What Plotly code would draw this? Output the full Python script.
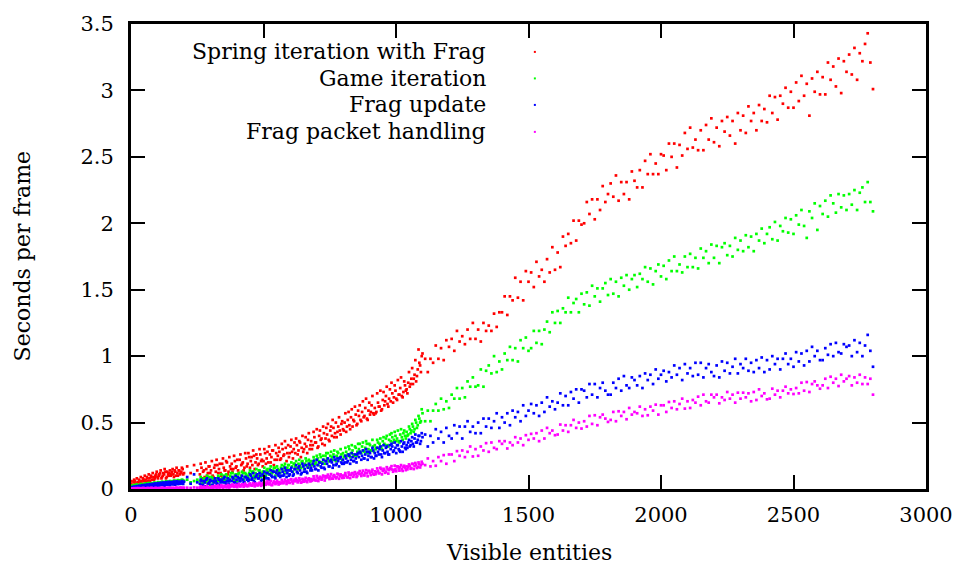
import plotly.graph_objects as go

# ---------------- data ----------------
entities = [
    0, 5, 10, 15, 20, 25, 30, 35, 40, 45, 50, 55, 60, 65, 70, 75, 80, 85, 90, 95,
    100, 105, 110, 115, 120, 125, 130, 135, 140, 145, 150, 155, 160, 165, 170, 175,
    180, 185, 190, 195, 200,
    212, 225, 238, 250,
    260, 266, 272, 278, 284, 290, 296, 302, 308, 314,
    320, 326, 332, 338, 344, 350, 356, 362, 368, 374,
    380, 386, 392, 398, 404, 410, 416, 422, 428, 434,
    440, 446, 452, 458, 464, 470, 476, 482, 488, 494,
    500, 506, 512, 518, 524, 530, 536, 542, 548, 554,
    560, 566, 572, 578, 584, 590, 596, 602, 608, 614,
    620, 626, 632, 638, 644, 650, 656, 662, 668, 674,
    680, 686, 692, 698, 704, 710, 716, 722, 728, 734,
    740, 746, 752, 758, 764, 770, 776, 782, 788, 794,
    800, 806, 812, 818, 824, 830, 836, 842, 848, 854,
    860, 866, 872, 878, 884, 890, 896, 902, 908, 914,
    920, 926, 932, 938, 944, 950, 956, 962, 968, 974,
    980, 986, 992, 998, 1004, 1010, 1016, 1022, 1028, 1034,
    1040, 1046, 1052, 1058, 1064, 1070, 1076, 1082, 1088, 1094, 1100,
    1110, 1120, 1130, 1140, 1150, 1160, 1170, 1180, 1190, 1200,
    1210, 1220, 1230, 1240, 1250, 1260, 1270, 1280, 1290, 1300,
    1310, 1320, 1330, 1340, 1350, 1360, 1370, 1380, 1390, 1400,
    1410, 1420, 1430, 1440, 1450, 1460, 1470, 1480, 1490, 1500,
    1510, 1520, 1530, 1540, 1550, 1560, 1570, 1580, 1590, 1600,
    1610, 1620, 1630, 1640, 1650, 1660, 1670, 1680, 1690, 1700,
    1710, 1720, 1730, 1740, 1750, 1760, 1770, 1780, 1790, 1800,
    1810, 1820, 1830, 1840, 1850, 1860, 1870, 1880, 1890, 1900,
    1910, 1920, 1930, 1940, 1950, 1960, 1970, 1980, 1990, 2000,
    2010, 2020, 2030, 2040, 2050, 2060, 2070, 2080, 2090, 2100,
    2110, 2120, 2130, 2140, 2150, 2160, 2170, 2180, 2190, 2200,
    2210, 2220, 2230, 2240, 2250, 2260, 2270, 2280, 2290, 2300,
    2310, 2320, 2330, 2340, 2350, 2360, 2370, 2380, 2390, 2400,
    2410, 2420, 2430, 2440, 2450, 2460, 2470, 2480, 2490, 2500,
    2510, 2520, 2530, 2540, 2550, 2560, 2570, 2580, 2590, 2600,
    2610, 2620, 2630, 2640, 2650, 2660, 2670, 2680, 2690, 2700,
    2710, 2720, 2730, 2740, 2750, 2760, 2770, 2780, 2790, 2800,
]

# extra measurements in the densely sampled range
entities_extra = [
    2, 7, 12, 17, 22, 27, 32, 37, 42, 47, 52, 57, 62, 67, 72, 77, 82, 87, 92, 97,
    102, 107, 112, 117, 122, 127, 132, 137, 142, 147, 152, 157, 162, 167, 172, 177,
    182, 187, 192, 197,
    263, 269, 275, 281, 287, 293, 299, 305, 311, 317,
    323, 329, 335, 341, 347, 353, 359, 365, 371, 377,
    383, 389, 395, 401, 407, 413, 419, 425, 431, 437,
    443, 449, 455, 461, 467, 473, 479, 485, 491, 497,
    503, 509, 515, 521, 527, 533, 539, 545, 551, 557,
    563, 569, 575, 581, 587, 593, 599, 605, 611, 617,
    623, 629, 635, 641, 647, 653, 659, 665, 671, 677,
    683, 689, 695, 701, 707, 713, 719, 725, 731, 737,
    743, 749, 755, 761, 767, 773, 779, 785, 791, 797,
    803, 809, 815, 821, 827, 833, 839, 845, 851, 857,
    863, 869, 875, 881, 887, 893, 899, 905, 911, 917,
    923, 929, 935, 941, 947, 953, 959, 965, 971, 977,
    983, 989, 995, 1001, 1007, 1013, 1019, 1025, 1031, 1037,
    1043, 1049, 1055, 1061, 1067, 1073, 1079, 1085, 1091, 1097,
]

spring_with_frag = [
    0.04, 0.03, 0.05, 0.06, 0.04, 0.05, 0.07, 0.05, 0.06, 0.08,
    0.06, 0.07, 0.09, 0.06, 0.08, 0.10, 0.07, 0.09, 0.08, 0.11,
    0.09, 0.10, 0.12, 0.08, 0.10, 0.11, 0.13, 0.09, 0.11, 0.12,
    0.10, 0.13, 0.11, 0.14, 0.10, 0.12, 0.14, 0.11, 0.13, 0.15, 0.12,
    0.17, 0.12, 0.18, 0.14,
    0.11, 0.16, 0.13, 0.09, 0.15, 0.12, 0.17, 0.14, 0.10, 0.16,
    0.13, 0.18, 0.15, 0.12, 0.19, 0.16, 0.14, 0.20, 0.13, 0.17,
    0.19, 0.15, 0.21, 0.17, 0.14, 0.22, 0.18, 0.20, 0.16, 0.23,
    0.19, 0.24, 0.21, 0.18, 0.25, 0.20, 0.23, 0.19, 0.26, 0.22,
    0.21, 0.27, 0.23, 0.20, 0.26, 0.24, 0.29, 0.22, 0.27, 0.25,
    0.28, 0.23, 0.30, 0.26, 0.31, 0.27, 0.24, 0.32, 0.28, 0.30,
    0.27, 0.33, 0.29, 0.35, 0.31, 0.28, 0.34, 0.32, 0.37, 0.30,
    0.36, 0.33, 0.39, 0.35, 0.31, 0.40, 0.37, 0.34, 0.42, 0.38,
    0.41, 0.37, 0.44, 0.40, 0.46, 0.42, 0.39, 0.47, 0.44, 0.49,
    0.45, 0.50, 0.43, 0.52, 0.48, 0.54, 0.47, 0.51, 0.56, 0.49,
    0.55, 0.52, 0.58, 0.54, 0.61, 0.53, 0.59, 0.56, 0.63, 0.57,
    0.61, 0.58, 0.65, 0.62, 0.59, 0.67, 0.63, 0.70, 0.64, 0.68,
    0.66, 0.72, 0.69, 0.74, 0.67, 0.71, 0.76, 0.70, 0.73, 0.78,
    0.75, 0.80, 0.77, 0.83, 0.79, 0.86, 0.81, 0.90, 0.95, 0.88, 1.02,
    0.98, 0.88, 0.98, 0.95, 1.08, 0.98, 1.06, 0.97, 1.12, 1.07,
    1.13, 1.04, 1.19, 1.11, 1.15, 1.09, 1.20, 1.13, 1.25, 1.13,
    1.20, 1.11, 1.25, 1.19, 1.23, 1.19, 1.32, 1.22, 1.33, 1.33,
    1.45, 1.31, 1.45, 1.42, 1.59, 1.44, 1.56, 1.42, 1.64, 1.56,
    1.63, 1.52, 1.71, 1.60, 1.65, 1.56, 1.73, 1.63, 1.82, 1.65,
    1.78, 1.67, 1.90, 1.83, 1.92, 1.85, 2.02, 1.87, 2.02, 1.99,
    2.00, 2.16, 2.07, 2.18, 2.03, 2.18, 2.10, 2.28, 2.16, 2.22,
    2.30, 2.20, 2.36, 2.17, 2.31, 2.22, 2.31, 2.18, 2.39, 2.32,
    2.27, 2.40, 2.27, 2.47, 2.37, 2.52, 2.37, 2.45, 2.37, 2.52,
    2.51, 2.40, 2.60, 2.50, 2.60, 2.42, 2.59, 2.51, 2.68, 2.56,
    2.72, 2.57, 2.63, 2.55, 2.70, 2.55, 2.74, 2.63, 2.79, 2.61,
    2.72, 2.58, 2.77, 2.69, 2.80, 2.66, 2.77, 2.60, 2.83, 2.70,
    2.81, 2.68, 2.88, 2.77, 2.83, 2.70, 2.89, 2.77, 2.86, 2.76,
    2.96, 2.83, 2.95, 2.78, 2.96, 2.90, 3.02, 2.87, 2.99, 2.87,
    3.06, 2.92, 3.11, 2.96, 3.05, 2.81, 3.09, 2.99, 3.14, 2.97,
    3.10, 2.97, 3.21, 3.08, 3.18, 3.03, 3.24, 2.98, 3.22, 3.14,
    3.27, 3.12, 3.32, 3.08, 3.28, 3.22, 3.35, 3.43, 3.21, 3.01,
]
spring_with_frag_extra = [
    0.06, 0.02, 0.07, 0.04, 0.08, 0.03, 0.06, 0.09, 0.04, 0.07,
    0.10, 0.05, 0.08, 0.11, 0.06, 0.09, 0.12, 0.07, 0.10, 0.13,
    0.08, 0.11, 0.14, 0.09, 0.12, 0.15, 0.08, 0.13, 0.10, 0.14,
    0.11, 0.15, 0.09, 0.13, 0.16, 0.10, 0.14, 0.12, 0.16, 0.11,
    0.19, 0.08, 0.14, 0.20, 0.10, 0.17, 0.12, 0.21, 0.09, 0.18,
    0.22, 0.12, 0.19, 0.10, 0.23, 0.14, 0.21, 0.11, 0.24, 0.15,
    0.13, 0.25, 0.16, 0.22, 0.12, 0.26, 0.19, 0.14, 0.27, 0.17,
    0.27, 0.16, 0.24, 0.29, 0.15, 0.26, 0.18, 0.30, 0.21, 0.17,
    0.30, 0.19, 0.28, 0.32, 0.20, 0.29, 0.18, 0.33, 0.22, 0.31,
    0.22, 0.34, 0.25, 0.36, 0.21, 0.33, 0.27, 0.37, 0.23, 0.35,
    0.38, 0.26, 0.36, 0.24, 0.40, 0.30, 0.39, 0.27, 0.42, 0.33,
    0.30, 0.43, 0.35, 0.45, 0.32, 0.44, 0.38, 0.47, 0.33, 0.46,
    0.49, 0.36, 0.47, 0.52, 0.39, 0.50, 0.43, 0.54, 0.41, 0.51,
    0.44, 0.57, 0.47, 0.58, 0.45, 0.60, 0.52, 0.62, 0.48, 0.59,
    0.63, 0.51, 0.66, 0.55, 0.68, 0.52, 0.65, 0.58, 0.70, 0.56,
    0.57, 0.72, 0.62, 0.74, 0.60, 0.73, 0.66, 0.77, 0.62, 0.75,
    0.80, 0.65, 0.78, 0.68, 0.82, 0.71, 0.84, 0.69, 0.81, 0.74,
    0.72, 0.88, 0.79, 0.91, 0.83, 0.97, 0.85, 1.05, 0.93, 1.00,
]

game_iteration = [
    0.020, 0.014, 0.026, 0.019, 0.030, 0.022, 0.017, 0.033, 0.027, 0.024,
    0.036, 0.029, 0.040, 0.031, 0.027, 0.043, 0.037, 0.034, 0.046, 0.039,
    0.044, 0.035, 0.049, 0.042, 0.052, 0.040, 0.047, 0.055, 0.045, 0.050,
    0.058, 0.048, 0.053, 0.061, 0.051, 0.057, 0.064, 0.054, 0.060, 0.067, 0.062,
    0.07, 0.05, 0.06, 0.07,
    0.06, 0.07, 0.05, 0.08, 0.06, 0.07, 0.09, 0.06, 0.08, 0.07,
    0.08, 0.06, 0.09, 0.07, 0.08, 0.10, 0.07, 0.09, 0.08, 0.10,
    0.09, 0.08, 0.10, 0.09, 0.11, 0.08, 0.10, 0.12, 0.09, 0.11,
    0.10, 0.12, 0.11, 0.13, 0.10, 0.12, 0.11, 0.14, 0.12, 0.11,
    0.13, 0.12, 0.14, 0.13, 0.15, 0.12, 0.14, 0.16, 0.13, 0.15,
    0.14, 0.16, 0.15, 0.17, 0.14, 0.16, 0.18, 0.15, 0.17, 0.19,
    0.17, 0.16, 0.19, 0.18, 0.20, 0.17, 0.19, 0.21, 0.18, 0.20,
    0.21, 0.19, 0.22, 0.20, 0.23, 0.21, 0.24, 0.20, 0.22, 0.25,
    0.23, 0.21, 0.25, 0.24, 0.26, 0.22, 0.25, 0.27, 0.24, 0.26,
    0.27, 0.25, 0.28, 0.26, 0.30, 0.27, 0.29, 0.25, 0.31, 0.28,
    0.30, 0.28, 0.32, 0.29, 0.31, 0.34, 0.30, 0.33, 0.29, 0.32,
    0.33, 0.31, 0.35, 0.34, 0.32, 0.36, 0.34, 0.38, 0.33, 0.37,
    0.36, 0.39, 0.37, 0.40, 0.38, 0.36, 0.41, 0.39, 0.42, 0.40,
    0.43, 0.41, 0.45, 0.44, 0.47, 0.45, 0.50, 0.48, 0.53, 0.51, 0.57,
    0.51, 0.59, 0.51, 0.59, 0.64, 0.59, 0.68, 0.60, 0.66, 0.61,
    0.71, 0.68, 0.76, 0.68, 0.76, 0.69, 0.81, 0.77, 0.84, 0.77,
    0.78, 0.90, 0.77, 0.89, 0.93, 0.87, 1.00, 0.88, 0.96, 0.90,
    1.02, 0.97, 1.07, 0.97, 1.06, 0.96, 1.12, 1.06, 1.14, 1.04,
    1.06, 1.19, 1.10, 1.19, 1.09, 1.20, 1.26, 1.18, 1.33, 1.25,
    1.34, 1.25, 1.36, 1.33, 1.44, 1.33, 1.40, 1.43, 1.33, 1.47,
    1.39, 1.48, 1.38, 1.53, 1.45, 1.51, 1.41, 1.51, 1.55, 1.46,
    1.58, 1.47, 1.56, 1.45, 1.59, 1.53, 1.61, 1.50, 1.58, 1.61,
    1.52, 1.62, 1.58, 1.67, 1.56, 1.66, 1.54, 1.64, 1.69, 1.60,
    1.68, 1.58, 1.72, 1.64, 1.75, 1.64, 1.69, 1.63, 1.75, 1.67,
    1.77, 1.67, 1.74, 1.66, 1.81, 1.74, 1.79, 1.70, 1.84, 1.74,
    1.83, 1.70, 1.82, 1.85, 1.76, 1.83, 1.75, 1.89, 1.80, 1.87,
    1.79, 1.91, 1.82, 1.90, 1.79, 1.92, 1.87, 1.96, 1.85, 1.92,
    1.97, 1.88, 2.01, 1.87, 1.98, 1.94, 2.04, 1.93, 2.03, 1.92,
    2.06, 1.99, 2.10, 1.98, 1.89, 2.09, 2.04, 2.15, 1.95, 2.13,
    2.07, 2.17, 2.05, 2.21, 2.15, 2.08, 2.22, 2.12, 2.21, 2.10,
    2.22, 2.14, 2.25, 2.10, 2.23, 2.27, 2.16, 2.31, 2.16, 2.09,
]
game_iteration_extra = [
    0.025, 0.012, 0.030, 0.016, 0.034, 0.020, 0.028, 0.038, 0.022, 0.033,
    0.041, 0.026, 0.037, 0.045, 0.030, 0.042, 0.034, 0.048, 0.038, 0.044,
    0.052, 0.036, 0.047, 0.055, 0.041, 0.051, 0.058, 0.044, 0.054, 0.060,
    0.048, 0.057, 0.063, 0.050, 0.061, 0.067, 0.053, 0.064, 0.070, 0.058,
    0.09, 0.04, 0.08, 0.05, 0.10, 0.06, 0.03, 0.09, 0.05, 0.08,
    0.05, 0.10, 0.06, 0.11, 0.07, 0.05, 0.11, 0.08, 0.06, 0.12,
    0.12, 0.07, 0.11, 0.06, 0.12, 0.08, 0.13, 0.07, 0.12, 0.09,
    0.08, 0.14, 0.09, 0.13, 0.08, 0.15, 0.10, 0.14, 0.09, 0.13,
    0.16, 0.10, 0.15, 0.11, 0.17, 0.12, 0.16, 0.10, 0.17, 0.13,
    0.12, 0.18, 0.13, 0.19, 0.12, 0.18, 0.14, 0.20, 0.13, 0.19,
    0.21, 0.15, 0.22, 0.16, 0.21, 0.15, 0.23, 0.17, 0.22, 0.16,
    0.18, 0.24, 0.19, 0.25, 0.18, 0.26, 0.20, 0.25, 0.19, 0.27,
    0.27, 0.21, 0.28, 0.22, 0.29, 0.21, 0.28, 0.23, 0.30, 0.22,
    0.24, 0.31, 0.25, 0.32, 0.24, 0.33, 0.26, 0.32, 0.25, 0.34,
    0.34, 0.27, 0.35, 0.28, 0.36, 0.27, 0.34, 0.29, 0.37, 0.28,
    0.30, 0.37, 0.31, 0.38, 0.30, 0.39, 0.33, 0.40, 0.32, 0.41,
    0.42, 0.35, 0.43, 0.36, 0.44, 0.35, 0.45, 0.37, 0.44, 0.38,
    0.40, 0.47, 0.42, 0.49, 0.43, 0.52, 0.46, 0.55, 0.50, 0.60,
]

frag_update = [
    0.010, 0.008, 0.015, 0.012, 0.018, 0.010, 0.020, 0.016, 0.022, 0.014,
    0.025, 0.019, 0.027, 0.021, 0.030, 0.018, 0.032, 0.026, 0.035, 0.024,
    0.038, 0.028, 0.040, 0.031, 0.042, 0.027, 0.044, 0.035, 0.047, 0.033,
    0.045, 0.038, 0.050, 0.036, 0.048, 0.041, 0.052, 0.039, 0.050, 0.044, 0.055,
    0.09, 0.04, 0.11, 0.05,
    0.04, 0.06, 0.03, 0.05, 0.07, 0.04, 0.05, 0.06, 0.03, 0.05,
    0.06, 0.04, 0.07, 0.05, 0.06, 0.08, 0.05, 0.06, 0.04, 0.07,
    0.06, 0.08, 0.05, 0.07, 0.09, 0.06, 0.08, 0.07, 0.05, 0.09,
    0.08, 0.07, 0.10, 0.08, 0.06, 0.09, 0.11, 0.08, 0.10, 0.07,
    0.10, 0.09, 0.12, 0.08, 0.11, 0.10, 0.13, 0.09, 0.12, 0.11,
    0.12, 0.10, 0.13, 0.11, 0.14, 0.12, 0.10, 0.14, 0.13, 0.11,
    0.15, 0.13, 0.16, 0.14, 0.12, 0.17, 0.15, 0.13, 0.16, 0.18,
    0.16, 0.19, 0.17, 0.15, 0.18, 0.20, 0.17, 0.19, 0.16, 0.21,
    0.19, 0.17, 0.21, 0.20, 0.18, 0.22, 0.19, 0.21, 0.23, 0.20,
    0.22, 0.20, 0.23, 0.21, 0.25, 0.22, 0.24, 0.21, 0.23, 0.26,
    0.24, 0.27, 0.25, 0.23, 0.26, 0.28, 0.25, 0.27, 0.24, 0.29,
    0.27, 0.25, 0.28, 0.30, 0.26, 0.29, 0.27, 0.31, 0.28, 0.26,
    0.30, 0.32, 0.29, 0.31, 0.33, 0.30, 0.28, 0.32, 0.34, 0.31,
    0.33, 0.35, 0.32, 0.36, 0.34, 0.38, 0.35, 0.37, 0.40, 0.36, 0.39,
    0.41, 0.32, 0.40, 0.35, 0.45, 0.38, 0.43, 0.35, 0.46, 0.40,
    0.38, 0.48, 0.42, 0.47, 0.38, 0.47, 0.51, 0.43, 0.47, 0.42,
    0.50, 0.42, 0.53, 0.47, 0.53, 0.46, 0.51, 0.57, 0.46, 0.54,
    0.50, 0.57, 0.48, 0.59, 0.54, 0.58, 0.51, 0.63, 0.55, 0.59,
    0.64, 0.57, 0.63, 0.55, 0.65, 0.58, 0.69, 0.62, 0.66, 0.60,
    0.65, 0.72, 0.63, 0.70, 0.63, 0.73, 0.68, 0.75, 0.65, 0.75,
    0.74, 0.69, 0.79, 0.71, 0.79, 0.69, 0.76, 0.80, 0.74, 0.71,
    0.71, 0.80, 0.76, 0.83, 0.74, 0.85, 0.78, 0.76, 0.84, 0.82,
    0.78, 0.85, 0.76, 0.87, 0.82, 0.86, 0.79, 0.90, 0.83, 0.86,
    0.89, 0.81, 0.88, 0.84, 0.93, 0.86, 0.91, 0.82, 0.94, 0.87,
    0.91, 0.85, 0.95, 0.86, 0.95, 0.84, 0.91, 0.94, 0.88, 0.85,
    0.93, 0.84, 0.96, 0.89, 0.95, 0.87, 0.92, 0.98, 0.87, 0.94,
    0.91, 0.98, 0.89, 0.95, 0.88, 0.97, 0.91, 0.99, 0.88, 0.97,
    0.90, 1.00, 0.94, 0.98, 0.90, 0.98, 1.02, 0.94, 0.98, 0.92,
    1.03, 0.96, 1.02, 0.93, 1.04, 0.96, 1.07, 1.00, 1.04, 0.97,
    0.97, 1.06, 1.01, 1.09, 1.00, 1.10, 1.03, 1.02, 1.09, 1.07,
    1.08, 1.00, 1.12, 1.03, 1.10, 1.00, 1.08, 1.16, 1.04, 0.92,
]
frag_update_extra = [
    0.014, 0.006, 0.018, 0.009, 0.022, 0.013, 0.025, 0.012, 0.028, 0.017,
    0.031, 0.015, 0.034, 0.020, 0.036, 0.022, 0.039, 0.025, 0.042, 0.021,
    0.044, 0.027, 0.047, 0.030, 0.049, 0.026, 0.051, 0.032, 0.054, 0.029,
    0.052, 0.035, 0.056, 0.033, 0.058, 0.037, 0.055, 0.040, 0.060, 0.038,
    0.07, 0.03, 0.06, 0.02, 0.08, 0.04, 0.07, 0.03, 0.06, 0.08,
    0.04, 0.08, 0.03, 0.07, 0.05, 0.09, 0.04, 0.08, 0.06, 0.03,
    0.09, 0.05, 0.10, 0.04, 0.08, 0.06, 0.10, 0.05, 0.09, 0.07,
    0.06, 0.11, 0.07, 0.12, 0.05, 0.10, 0.08, 0.12, 0.06, 0.11,
    0.13, 0.08, 0.12, 0.07, 0.14, 0.09, 0.13, 0.08, 0.14, 0.10,
    0.09, 0.15, 0.10, 0.16, 0.09, 0.14, 0.11, 0.16, 0.10, 0.15,
    0.18, 0.12, 0.17, 0.11, 0.19, 0.13, 0.18, 0.12, 0.19, 0.14,
    0.14, 0.21, 0.15, 0.22, 0.14, 0.20, 0.16, 0.22, 0.15, 0.21,
    0.23, 0.17, 0.22, 0.16, 0.24, 0.18, 0.23, 0.17, 0.24, 0.19,
    0.19, 0.25, 0.20, 0.26, 0.19, 0.27, 0.21, 0.26, 0.20, 0.27,
    0.28, 0.22, 0.29, 0.23, 0.30, 0.22, 0.28, 0.24, 0.31, 0.23,
    0.25, 0.31, 0.26, 0.32, 0.24, 0.33, 0.27, 0.32, 0.26, 0.33,
    0.34, 0.28, 0.35, 0.27, 0.33, 0.29, 0.36, 0.28, 0.35, 0.30,
    0.31, 0.37, 0.33, 0.39, 0.32, 0.41, 0.35, 0.40, 0.34, 0.42,
]

frag_packet_handling = [
    0.003, 0.005, 0.002, 0.004, 0.006, 0.003, 0.005, 0.004, 0.002, 0.006,
    0.004, 0.003, 0.005, 0.007, 0.004, 0.003, 0.006, 0.005, 0.004, 0.007,
    0.005, 0.003, 0.006, 0.004, 0.008, 0.005, 0.004, 0.007, 0.006, 0.003,
    0.008, 0.005, 0.006, 0.004, 0.009, 0.006, 0.005, 0.008, 0.007, 0.004, 0.009,
    0.010, 0.008, 0.012, 0.010,
    0.010, 0.006, 0.014, 0.008, 0.012, 0.016, 0.009, 0.013, 0.011, 0.018,
    0.014, 0.019, 0.012, 0.017, 0.022, 0.015, 0.020, 0.013, 0.024, 0.018,
    0.021, 0.026, 0.019, 0.024, 0.029, 0.022, 0.027, 0.032, 0.025, 0.030,
    0.028, 0.034, 0.031, 0.026, 0.036, 0.033, 0.029, 0.038, 0.035, 0.032,
    0.040, 0.036, 0.044, 0.041, 0.047, 0.030, 0.045, 0.050, 0.043, 0.048,
    0.052, 0.046, 0.055, 0.050, 0.058, 0.053, 0.049, 0.070, 0.056, 0.062,
    0.058, 0.064, 0.061, 0.067, 0.052, 0.070, 0.066, 0.060, 0.072, 0.068,
    0.075, 0.071, 0.079, 0.064, 0.082, 0.077, 0.085, 0.080, 0.095, 0.083,
    0.090, 0.086, 0.094, 0.078, 0.097, 0.092, 0.088, 0.110, 0.095, 0.103,
    0.098, 0.105, 0.101, 0.088, 0.108, 0.104, 0.120, 0.106, 0.114, 0.099,
    0.116, 0.112, 0.120, 0.105, 0.123, 0.118, 0.136, 0.121, 0.130, 0.115,
    0.133, 0.128, 0.137, 0.121, 0.150, 0.135, 0.144, 0.129, 0.148, 0.142,
    0.152, 0.147, 0.140, 0.150, 0.170, 0.154, 0.163, 0.148, 0.167, 0.161,
    0.170, 0.165, 0.174, 0.158, 0.188, 0.172, 0.182, 0.166, 0.186, 0.180, 0.190,
    0.18, 0.23, 0.17, 0.21, 0.175, 0.24, 0.21, 0.255, 0.19, 0.26,
    0.26, 0.21, 0.285, 0.25, 0.29, 0.24, 0.28, 0.32, 0.245, 0.30,
    0.25, 0.32, 0.29, 0.345, 0.28, 0.35, 0.31, 0.30, 0.36, 0.34,
    0.36, 0.305, 0.35, 0.33, 0.39, 0.35, 0.38, 0.33, 0.405, 0.37,
    0.415, 0.38, 0.42, 0.36, 0.44, 0.38, 0.46, 0.42, 0.44, 0.405,
    0.41, 0.485, 0.44, 0.48, 0.43, 0.48, 0.52, 0.46, 0.50, 0.455,
    0.51, 0.47, 0.55, 0.49, 0.555, 0.48, 0.54, 0.56, 0.53, 0.505,
    0.52, 0.58, 0.51, 0.585, 0.55, 0.58, 0.525, 0.61, 0.56, 0.58,
    0.57, 0.62, 0.55, 0.60, 0.555, 0.62, 0.59, 0.635, 0.56, 0.63,
    0.63, 0.58, 0.655, 0.61, 0.66, 0.60, 0.64, 0.68, 0.605, 0.66,
    0.61, 0.67, 0.65, 0.695, 0.63, 0.71, 0.66, 0.65, 0.71, 0.69,
    0.71, 0.645, 0.69, 0.67, 0.73, 0.68, 0.71, 0.65, 0.725, 0.68,
    0.725, 0.69, 0.72, 0.66, 0.73, 0.67, 0.75, 0.70, 0.72, 0.675,
    0.68, 0.755, 0.71, 0.74, 0.69, 0.74, 0.77, 0.72, 0.75, 0.715,
    0.76, 0.72, 0.80, 0.74, 0.805, 0.73, 0.79, 0.81, 0.78, 0.755,
    0.78, 0.83, 0.76, 0.845, 0.80, 0.83, 0.775, 0.86, 0.81, 0.83,
    0.85, 0.78, 0.84, 0.80, 0.86, 0.79, 0.84, 0.79, 0.83, 0.71,
]
frag_packet_handling_extra = [
    0.004, 0.002, 0.006, 0.003, 0.005, 0.007, 0.003, 0.006, 0.004, 0.008,
    0.005, 0.003, 0.007, 0.004, 0.006, 0.009, 0.005, 0.004, 0.008, 0.006,
    0.003, 0.007, 0.005, 0.009, 0.006, 0.004, 0.008, 0.005, 0.010, 0.006,
    0.004, 0.009, 0.007, 0.005, 0.010, 0.006, 0.008, 0.011, 0.007, 0.009,
    0.020, 0.004, 0.016, 0.007, 0.022, 0.010, 0.005, 0.019, 0.008, 0.024,
    0.009, 0.026, 0.012, 0.028, 0.010, 0.025, 0.014, 0.030, 0.011, 0.027,
    0.034, 0.016, 0.031, 0.014, 0.037, 0.019, 0.035, 0.017, 0.040, 0.021,
    0.022, 0.042, 0.025, 0.045, 0.020, 0.041, 0.027, 0.047, 0.024, 0.044,
    0.055, 0.032, 0.058, 0.035, 0.061, 0.030, 0.057, 0.037, 0.063, 0.034,
    0.040, 0.068, 0.043, 0.071, 0.038, 0.066, 0.046, 0.074, 0.042, 0.070,
    0.078, 0.050, 0.081, 0.048, 0.076, 0.055, 0.084, 0.052, 0.080, 0.057,
    0.062, 0.095, 0.066, 0.098, 0.060, 0.092, 0.070, 0.101, 0.064, 0.097,
    0.108, 0.075, 0.112, 0.078, 0.105, 0.080, 0.115, 0.077, 0.110, 0.083,
    0.085, 0.120, 0.088, 0.124, 0.082, 0.118, 0.092, 0.127, 0.090, 0.122,
    0.135, 0.098, 0.138, 0.102, 0.142, 0.096, 0.136, 0.105, 0.145, 0.108,
    0.112, 0.155, 0.118, 0.160, 0.110, 0.152, 0.122, 0.164, 0.116, 0.158,
    0.172, 0.130, 0.176, 0.134, 0.170, 0.138, 0.180, 0.136, 0.175, 0.142,
    0.148, 0.185, 0.152, 0.190, 0.150, 0.196, 0.158, 0.200, 0.162, 0.205,
]

series_names = ["Spring iteration with Frag", "Game iteration",
                "Frag update", "Frag packet handling"]
series_values = [spring_with_frag, game_iteration, frag_update, frag_packet_handling]
series_extra = [spring_with_frag_extra, game_iteration_extra,
                frag_update_extra, frag_packet_handling_extra]
series_colors = ["#ff0000", "#00ff00", "#0000ff", "#ff00ff"]

x_ticks = [0, 500, 1000, 1500, 2000, 2500, 3000]
y_ticks = [0, 0.5, 1, 1.5, 2, 2.5, 3, 3.5]
y_tick_text = ["0", "0.5", "1", "1.5", "2", "2.5", "3", "3.5"]

for vals, extra in zip(series_values, series_extra):
    assert len(vals) == len(entities), (len(vals), len(entities))
    assert len(extra) == len(entities_extra), (len(extra), len(entities_extra))

# ---------------- figure ----------------
FONT = "DejaVu Serif"
fig = go.Figure()
for name, vals, extra, col in zip(series_names, series_values, series_extra, series_colors):
    fig.add_trace(go.Scatter(
        x=entities + entities_extra, y=vals + extra, mode="markers", name=name,
        showlegend=False,
        marker=dict(symbol="square", size=2.7, color=col, line=dict(width=0)),
    ))

axis_common = dict(
    showline=True, linewidth=3, linecolor="black", mirror="ticks",
    ticks="inside", ticklen=14, tickwidth=2, tickcolor="black",
    showgrid=False, zeroline=False,
    tickfont=dict(family=FONT, size=21, color="black"),
)
fig.update_xaxes(range=[0, 3000], tickvals=x_ticks, ticklabelstandoff=5, **axis_common)
fig.update_yaxes(range=[0, 3.5], tickvals=y_ticks, ticktext=y_tick_text,
                 ticklabelstandoff=10, **axis_common)

annotations = [
    dict(text="Visible entities", x=0.5, y=-0.1365, xref="paper", yref="paper",
         xanchor="center", yanchor="middle", showarrow=False,
         font=dict(family=FONT, size=22, color="black")),
    dict(text="Seconds per frame", x=-0.136, y=0.5, xref="paper", yref="paper",
         xanchor="center", yanchor="middle", textangle=-90, showarrow=False,
         font=dict(family=FONT, size=22, color="black")),
]
legend_y = [0.940, 0.883, 0.826, 0.768]
shapes = []
for name, col, ly in zip(series_names, series_colors, legend_y):
    annotations.append(dict(text=name, x=0.448, y=ly, xref="paper", yref="paper",
                            xanchor="right", yanchor="middle", showarrow=False,
                            borderpad=0,
                            font=dict(family=FONT, size=22, color="black")))
    shapes.append(dict(type="rect", xref="paper", yref="paper",
                       xsizemode="pixel", ysizemode="pixel",
                       xanchor=0.508, yanchor=ly, x0=-1, x1=1, y0=-1, y1=1,
                       fillcolor=col, line=dict(width=0)))

fig.update_layout(
    width=965, height=571,
    margin=dict(l=131, r=33, t=20, b=82),
    paper_bgcolor="white", plot_bgcolor="white",
    font=dict(family=FONT, size=21, color="black"),
    annotations=annotations, shapes=shapes,
    showlegend=False,
)

fig.write_html("out.html")
